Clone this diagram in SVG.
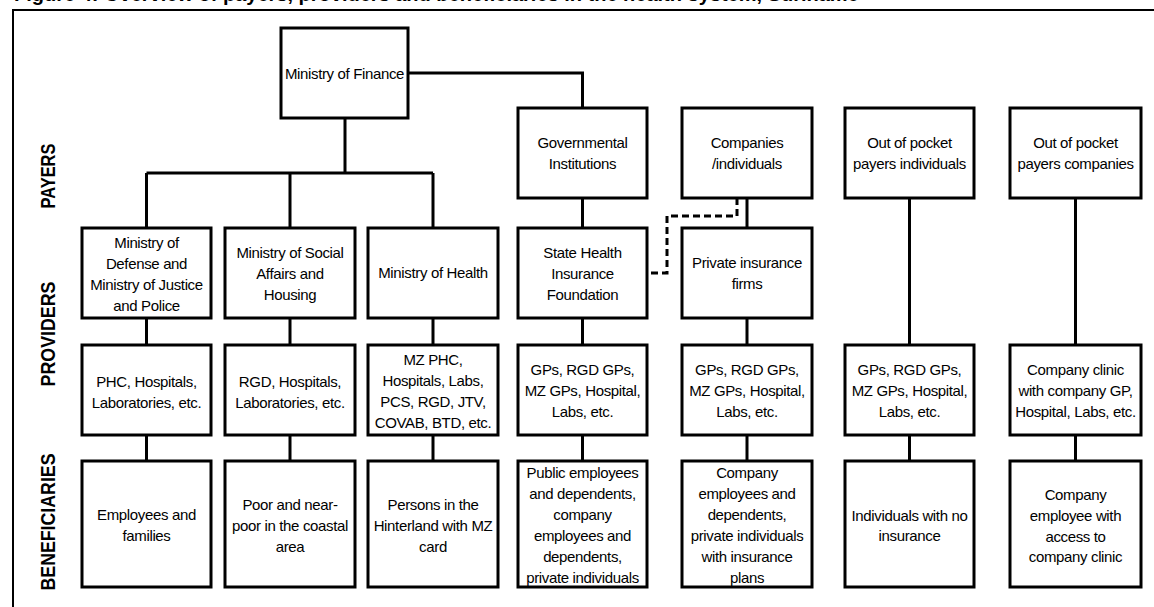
<svg xmlns="http://www.w3.org/2000/svg" width="1154" height="607" viewBox="0 0 1154 607">
<style>
.bx{fill:#fff;stroke:#000;stroke-width:3}
.ln{fill:none;stroke:#000;stroke-width:3}
.dash{fill:none;stroke:#000;stroke-width:3;stroke-dasharray:7 4}
.t{font-family:"Liberation Sans",Arial,sans-serif;font-size:15px;letter-spacing:-0.35px;text-anchor:middle;fill:#000}
.side{font-family:"Liberation Sans",Arial,sans-serif;font-size:21px;font-weight:bold;text-anchor:middle;fill:#000}
.title{font-family:"Liberation Sans",Arial,sans-serif;font-size:20px;font-weight:bold;fill:#000}
</style>
<rect width="1154" height="607" fill="#fff"/>
<text class="title" x="14" y="0.5">Figure 4: Overview of payers, providers and beneficiaries in the health system, Suriname</text>
<path d="M13 607 V10 H1154" fill="none" stroke="#000" stroke-width="2"/>
<g id="labels">
<text class="side" transform="translate(55,176) rotate(-90)" textLength="65" lengthAdjust="spacingAndGlyphs">PAYERS</text>
<text class="side" transform="translate(55,334) rotate(-90)" textLength="105" lengthAdjust="spacingAndGlyphs">PROVIDERS</text>
<text class="side" transform="translate(55,522) rotate(-90)" textLength="137" lengthAdjust="spacingAndGlyphs">BENEFICIARIES</text>
</g>
<g id="connectors">
<path class="ln" d="M345 118 V173 M146.5 173 H433 M146.5 173 V228 M290 173 V228 M433 173 V228"/>
<path class="ln" d="M408 73 H582.5 V108"/>
<path class="ln" d="M582.5 198 V228 M747 198 V228 M909.5 198 V345 M1075.5 198 V345"/>
<path class="ln" d="M146.5 318 V345 M290 318 V345 M433 318 V345 M582.5 318 V345 M747 318 V345"/>
<path class="ln" d="M146.5 435 V461 M290 435 V461 M433 435 V461 M582.5 435 V461 M747 435 V461 M909.5 435 V461 M1075.5 435 V461"/>
<path class="dash" d="M737 198 V216 H667 V273 H647"/>
</g>
<g id="n-mof"><rect class="bx" x="281" y="28" width="127" height="90"/><text class="t"><tspan x="344.5" y="79">Ministry of Finance</tspan></text></g>
<g id="n-gov"><rect class="bx" x="518" y="108" width="129" height="90"/><text class="t"><tspan x="582.5" y="148">Governmental</tspan><tspan x="582.5" y="169">Institutions</tspan></text></g>
<g id="n-comp"><rect class="bx" x="682" y="108" width="130" height="90"/><text class="t"><tspan x="747" y="148">Companies</tspan><tspan x="747" y="169">/individuals</tspan></text></g>
<g id="n-oopi"><rect class="bx" x="845" y="108" width="129" height="90"/><text class="t"><tspan x="909.5" y="148">Out of pocket</tspan><tspan x="909.5" y="169">payers individuals</tspan></text></g>
<g id="n-oopc"><rect class="bx" x="1010" y="108" width="131" height="90"/><text class="t"><tspan x="1075.5" y="148">Out of pocket</tspan><tspan x="1075.5" y="169">payers companies</tspan></text></g>

<g id="n-mod"><rect class="bx" x="82" y="228" width="129" height="90"/><text class="t"><tspan x="146.5" y="248">Ministry of</tspan><tspan x="146.5" y="269">Defense and</tspan><tspan x="146.5" y="290">Ministry of Justice</tspan><tspan x="146.5" y="311">and Police</tspan></text></g>
<g id="n-mosa"><rect class="bx" x="225" y="228" width="130" height="90"/><text class="t"><tspan x="290" y="258">Ministry of Social</tspan><tspan x="290" y="279">Affairs  and</tspan><tspan x="290" y="300">Housing</tspan></text></g>
<g id="n-moh"><rect class="bx" x="368" y="228" width="130" height="90"/><text class="t"><tspan x="433" y="278">Ministry of Health</tspan></text></g>
<g id="n-shif"><rect class="bx" x="518" y="228" width="129" height="90"/><text class="t"><tspan x="582.5" y="258">State  Health</tspan><tspan x="582.5" y="279">Insurance</tspan><tspan x="582.5" y="300">Foundation</tspan></text></g>
<g id="n-pif"><rect class="bx" x="682" y="228" width="130" height="90"/><text class="t"><tspan x="747" y="268">Private  insurance</tspan><tspan x="747" y="289">firms</tspan></text></g>

<g id="n-p1"><rect class="bx" x="82" y="345" width="129" height="90"/><text class="t"><tspan x="146.5" y="387">PHC, Hospitals,</tspan><tspan x="146.5" y="408">Laboratories, etc.</tspan></text></g>
<g id="n-p2"><rect class="bx" x="225" y="345" width="130" height="90"/><text class="t"><tspan x="290" y="387">RGD, Hospitals,</tspan><tspan x="290" y="408">Laboratories, etc.</tspan></text></g>
<g id="n-p3"><rect class="bx" x="368" y="345" width="130" height="90"/><text class="t"><tspan x="433" y="365">MZ PHC,</tspan><tspan x="433" y="386">Hospitals, Labs,</tspan><tspan x="433" y="407">PCS, RGD, JTV,</tspan><tspan x="433" y="428">COVAB, BTD, etc.</tspan></text></g>
<g id="n-p4"><rect class="bx" x="518" y="345" width="129" height="90"/><text class="t"><tspan x="582.5" y="375">GPs, RGD GPs,</tspan><tspan x="582.5" y="396">MZ GPs, Hospital,</tspan><tspan x="582.5" y="417">Labs, etc.</tspan></text></g>
<g id="n-p5"><rect class="bx" x="682" y="345" width="130" height="90"/><text class="t"><tspan x="747" y="375">GPs, RGD GPs,</tspan><tspan x="747" y="396">MZ GPs, Hospital,</tspan><tspan x="747" y="417">Labs, etc.</tspan></text></g>
<g id="n-p6"><rect class="bx" x="845" y="345" width="129" height="90"/><text class="t"><tspan x="909.5" y="375">GPs, RGD GPs,</tspan><tspan x="909.5" y="396">MZ GPs, Hospital,</tspan><tspan x="909.5" y="417">Labs, etc.</tspan></text></g>
<g id="n-p7"><rect class="bx" x="1010" y="345" width="131" height="90"/><text class="t"><tspan x="1075.5" y="375">Company clinic</tspan><tspan x="1075.5" y="396">with  company GP,</tspan><tspan x="1075.5" y="417">Hospital, Labs, etc.</tspan></text></g>

<g id="n-b1"><rect class="bx" x="82" y="461" width="129" height="126"/><text class="t"><tspan x="146.5" y="520">Employees and</tspan><tspan x="146.5" y="541">families</tspan></text></g>
<g id="n-b2"><rect class="bx" x="225" y="461" width="130" height="126"/><text class="t"><tspan x="290" y="510">Poor and near-</tspan><tspan x="290" y="531">poor in the coastal</tspan><tspan x="290" y="552">area</tspan></text></g>
<g id="n-b3"><rect class="bx" x="368" y="461" width="130" height="126"/><text class="t"><tspan x="433" y="510">Persons in the</tspan><tspan x="433" y="531">Hinterland with MZ</tspan><tspan x="433" y="552">card</tspan></text></g>
<g id="n-b4"><rect class="bx" x="518" y="461" width="129" height="126"/><text class="t"><tspan x="582.5" y="478">Public employees</tspan><tspan x="582.5" y="499">and dependents,</tspan><tspan x="582.5" y="520">company</tspan><tspan x="582.5" y="541">employees and</tspan><tspan x="582.5" y="562">dependents,</tspan><tspan x="582.5" y="583">private individuals</tspan></text></g>
<g id="n-b5"><rect class="bx" x="682" y="461" width="130" height="126"/><text class="t"><tspan x="747" y="478">Company</tspan><tspan x="747" y="499">employees and</tspan><tspan x="747" y="520">dependents,</tspan><tspan x="747" y="541">private individuals</tspan><tspan x="747" y="562">with insurance</tspan><tspan x="747" y="583">plans</tspan></text></g>
<g id="n-b6"><rect class="bx" x="845" y="461" width="129" height="126"/><text class="t"><tspan x="909.5" y="521">Individuals with  no</tspan><tspan x="909.5" y="541">insurance</tspan></text></g>
<g id="n-b7"><rect class="bx" x="1010" y="461" width="131" height="126"/><text class="t"><tspan x="1075.5" y="500">Company</tspan><tspan x="1075.5" y="521">employee with</tspan><tspan x="1075.5" y="542">access to</tspan><tspan x="1075.5" y="562">company clinic</tspan></text></g>
</svg>
